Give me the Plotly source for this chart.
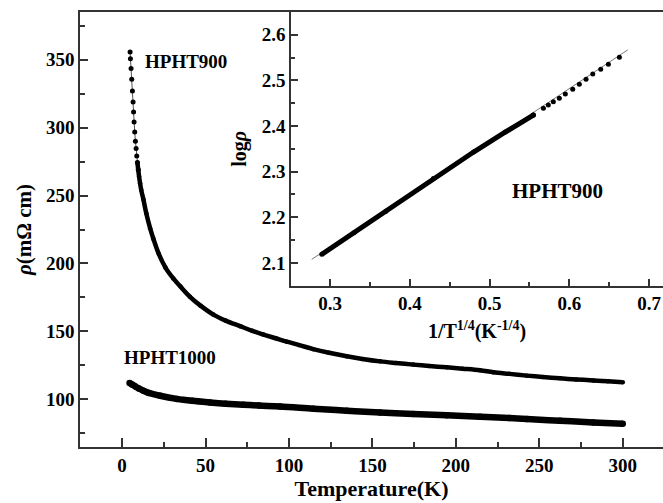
import plotly.graph_objects as go

# ---- data ----
T900 = [4.8, 5.0, 5.4, 5.8, 6.2, 6.6, 6.9, 7.2, 7.6, 8.0, 8.4, 8.8, 9.2, 9.7, 10.2, 10.8,
        11.5, 12.8, 14.5, 16.8, 18.8, 22, 26, 30.7, 35, 40.7, 47, 54.7, 62, 70.7, 78, 84.7,
        92, 98.7, 106, 114.6, 124, 134.6, 144, 154.6, 164, 174.5, 184, 194.5, 204, 214.5,
        222.5, 232, 242.5, 252, 262.4, 272, 282.4, 291, 300]
rho900 = [355.6, 350.7, 343.4, 335.5, 326.9, 318.8, 311.4, 304.1, 296.7, 290.0, 284.5, 279.0,
          274.2, 269, 264, 259, 254, 247, 237, 226, 218, 207, 197, 189, 183, 175.5, 169,
          162.4, 158, 153.9, 150.5, 147.7, 145, 142.5, 140, 137, 134.3, 131.7, 129.8, 128,
          126.8, 125.6, 124.6, 123.6, 122.6, 121.4, 120, 118.8, 117.5, 116.5, 115.5, 114.7,
          114, 113.3, 112.6]

T1000 = [4.5, 6, 8, 10, 12.8, 16, 22.8, 32.8, 42, 52.7, 62, 72.7, 82, 94.7, 114.6, 134.6,
         154.6, 174.5, 194.5, 214.5, 232, 242.5, 262.4, 282.4, 300]
rho1000 = [112.1, 111.0, 109.5, 108.1, 106.4, 104.8, 102.7, 100.4, 99.0, 97.8, 96.9, 96.1, 95.5,
           94.8, 93.2, 91.7, 90.4, 89.2, 88.3, 87.3, 86.3, 85.6, 84.3, 83.1, 82.1]

# inset: log(rho) vs T^(-1/4) for HPHT900
invT = [0.2896, 0.33, 0.37, 0.4296, 0.48, 0.52, 0.555, 0.5675, 0.5737, 0.58, 0.5875,
        0.595, 0.6043, 0.6126, 0.621, 0.6294, 0.6394, 0.649, 0.6628]
logrho = [2.1187, 2.166, 2.213, 2.285, 2.343, 2.387, 2.424, 2.4389, 2.4462, 2.4534, 2.4609,
          2.4703, 2.4807, 2.4916, 2.5026, 2.5143, 2.5246, 2.5356, 2.551]
fit_x = [0.277, 0.6733]
fit_y = [2.1077, 2.567]

main_xticks = [0, 50, 100, 150, 200, 250, 300]
main_yticks = [100, 150, 200, 250, 300, 350]
inset_xticks = [0.3, 0.4, 0.5, 0.6, 0.7]
inset_yticks = [2.1, 2.2, 2.3, 2.4, 2.5, 2.6]

N_SPARSE = 13   # low-T points drawn as separate dots
N_DENSE_INSET = 7

FONT = "Liberation Serif"
AX = "#333333"


def bold(vals, fmt="{}"):
    return ["<b>" + fmt.format(v) + "</b>" for v in vals]


fig = go.Figure()

fig.add_trace(go.Scatter(x=T900[:N_SPARSE + 1], y=rho900[:N_SPARSE + 1], mode="lines+markers",
                         line=dict(color="#555555", width=1),
                         marker=dict(color="black", size=5), showlegend=False))
fig.add_trace(go.Scatter(x=T900[N_SPARSE - 1:], y=rho900[N_SPARSE - 1:], mode="lines+markers",
                         line=dict(color="black", width=4.5, shape="spline"),
                         marker=dict(color="black", size=4.5), showlegend=False))
fig.add_trace(go.Scatter(x=T1000, y=rho1000, mode="lines+markers",
                         line=dict(color="black", width=6.5, shape="spline"),
                         marker=dict(color="black", size=6.5), showlegend=False))

# inset
fig.add_trace(go.Scatter(x=fit_x, y=fit_y, xaxis="x2", yaxis="y2", mode="lines",
                         line=dict(color="#777777", width=1), showlegend=False))
fig.add_trace(go.Scatter(x=invT[:N_DENSE_INSET], y=logrho[:N_DENSE_INSET], xaxis="x2", yaxis="y2",
                         mode="lines+markers", line=dict(color="black", width=5),
                         marker=dict(color="black", size=5), showlegend=False))
fig.add_trace(go.Scatter(x=invT[N_DENSE_INSET - 1:], y=logrho[N_DENSE_INSET - 1:], xaxis="x2", yaxis="y2",
                         mode="markers", marker=dict(color="black", size=5), showlegend=False))

tickfont = dict(family=FONT, size=19, color="black", weight="bold")
common = dict(showline=True, linecolor=AX, linewidth=1.5, ticks="inside", tickcolor=AX,
              tickwidth=1.5, showgrid=False, zeroline=False, tickfont=tickfont)

fig.update_layout(
    width=663, height=503,
    margin=dict(l=80, r=0, t=12, b=56),
    paper_bgcolor="white", plot_bgcolor="white",
    xaxis=dict(range=[-25.2, 324.1], tickvals=main_xticks, ticktext=bold(main_xticks), ticklen=9,
               minor=dict(dtick=25, tick0=0, ticks="inside", ticklen=5, tickcolor=AX, tickwidth=1.5),
               mirror=True, automargin=False,
               title=dict(text="<b>Temperature(K)</b>", font=dict(family=FONT, size=22, color="black"),
                          standoff=5),
               **common),
    yaxis=dict(range=[65, 385], tickvals=main_yticks, ticktext=bold(main_yticks), ticklen=8,
               minor=dict(dtick=25, tick0=0, ticks="inside", ticklen=5, tickcolor=AX, tickwidth=1.5),
               automargin=False,
               title=dict(text="<b><i>ρ</i>(mΩ cm)</b>", font=dict(family=FONT, size=21, color="black"),
                          standoff=9),
               **common),
    xaxis2=dict(domain=[211 / 583, 1], anchor="y2", range=[0.251, 0.7175],
                tickvals=inset_xticks, ticktext=bold(inset_xticks, "{:.1f}"), ticklen=7,
                minor=dict(dtick=0.05, tick0=0, ticks="inside", ticklen=4, tickcolor=AX, tickwidth=1.5),
                automargin=False,
                title=dict(text="<b>1/T<sup>1/4</sup>(K<sup>-1/4</sup>)</b>",
                           font=dict(family=FONT, size=20, color="black"), standoff=11),
                **common),
    yaxis2=dict(domain=[(447 - 285.7) / 435, 1], anchor="x2", range=[2.05, 2.65],
                tickvals=inset_yticks, ticktext=bold(inset_yticks, "{:.1f}"), ticklen=7,
                minor=dict(dtick=0.05, tick0=0, ticks="inside", ticklen=4, tickcolor=AX, tickwidth=1.5),
                automargin=False,
                title=dict(text="<b>log<i>ρ</i></b>", font=dict(family=FONT, size=20, color="black"),
                           standoff=10),
                **common),
    annotations=[
        dict(x=12.6, y=348.7, xref="x", yref="y", text="<b>HPHT900</b>", showarrow=False, xanchor="left",
             yanchor="middle", font=dict(family=FONT, size=19, color="black")),
        dict(x=-0.2, y=131.2, xref="x", yref="y", text="<b>HPHT1000</b>", showarrow=False, xanchor="left",
             yanchor="middle", font=dict(family=FONT, size=19, color="black")),
        dict(x=0.5852, y=2.2575, xref="x2", yref="y2", text="<b>HPHT900</b>", showarrow=False, xanchor="center",
             yanchor="middle", font=dict(family=FONT, size=21, color="black")),
    ],
)

fig.write_html("out.html")
